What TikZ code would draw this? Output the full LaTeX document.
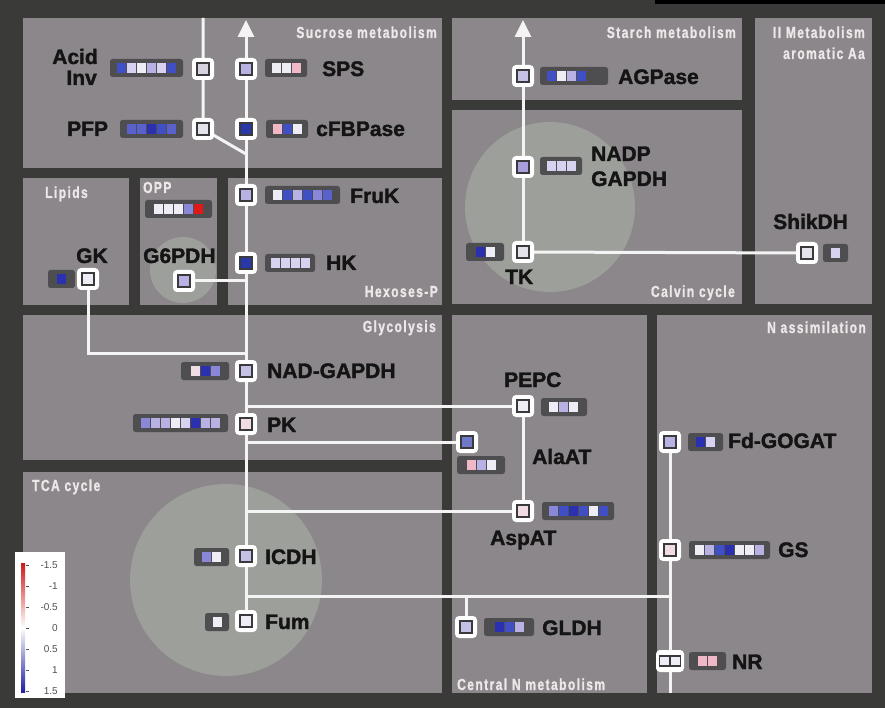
\documentclass[tikz,border=0pt]{standalone}
\usepackage{fontspec}
\setmainfont{Liberation Sans}
\newfontfamily\labfont[BoldFeatures={FakeBold=1.6}]{Liberation Sans}
\newfontfamily\ttlfont[FakeStretch=0.75,LetterSpace=9,BoldFeatures={FakeBold=1.2}]{Liberation Sans}
\usetikzlibrary{arrows.meta}
\definecolor{bgc}{HTML}{3A3B38}
\definecolor{panelc}{HTML}{8B878A}
\definecolor{circc}{HTML}{9D9F9A}
\definecolor{barc}{HTML}{4E4E51}
\definecolor{linec}{HTML}{F4F4F4}
\definecolor{enzb}{HTML}{3A3A3C}
\definecolor{ttlc}{HTML}{ECE8EA}
\definecolor{hw}{HTML}{EEEDF5}
\definecolor{hlw}{HTML}{D6D2F0}
\definecolor{hl}{HTML}{B8B2E4}
\definecolor{hm}{HTML}{8A86D8}
\definecolor{hbb}{HTML}{5A60CC}
\definecolor{hb}{HTML}{4050C4}
\definecolor{hd}{HTML}{2A30B0}
\definecolor{hp}{HTML}{F0B8C6}
\definecolor{hpl}{HTML}{F2DCE4}
\definecolor{hr}{HTML}{E01818}
\definecolor{eg}{HTML}{D6D2E0}
\definecolor{ewg}{HTML}{E4E2EA}
\definecolor{ed}{HTML}{2838A8}
\definecolor{ela}{HTML}{C4C0E6}
\definecolor{ehl}{HTML}{A8A0D8}
\definecolor{eal}{HTML}{7078C8}
\definecolor{legred}{HTML}{D01818}
\definecolor{legblue}{HTML}{2020A0}
\definecolor{legtxt}{HTML}{505050}
\pgfdeclarelayer{back}
\pgfdeclarelayer{lines}
\pgfsetlayers{back,lines,main}
\newcommand\enzyme[3]{%
  \node[enzo] (#1) at (#2) {};
  \node[enzi, fill=#3] (#1-in) at (#2) {};}
\newcommand\hmap[5]{%
  \fill[barc, rounded corners=2.5pt] (#1,#2-9) rectangle ++(#3,18);
  \foreach \hc [count=\i from 0] in {#5} {\fill[\hc] ({#1+#4+10*\i},{#2-5}) rectangle ++(9,10);}}
\begin{document}
\begin{tikzpicture}[x=1pt,y=-1pt,
  ln/.style={draw=linec, line width=3pt},
  tip/.style={-{Triangle[width=16pt,length=17pt]}},
  enzo/.style={draw=none, fill=white, rounded corners=4pt, minimum size=22pt, inner sep=0pt},
  enzi/.style={draw=enzb, line width=1.5pt, minimum size=12pt, inner sep=0pt},
  lab/.style={font=\labfont\bfseries\fontsize{21}{22}\selectfont, text=black!92, inner sep=0pt},
  ttl/.style={font=\ttlfont\bfseries\fontsize{16}{17}\selectfont, text=ttlc, inner sep=0pt},
  leg/.style={font=\fontsize{10}{11}\selectfont, text=legtxt, inner sep=0pt}]
\useasboundingbox (0,0) rectangle (885,708);
\begin{pgfonlayer}{back}
\fill[bgc] (0,0) rectangle (885,708);
\fill[black] (655,0) rectangle (885,4);
\fill[panelc] (23,18) rectangle (442,168);
\fill[panelc] (452,18) rectangle (742,100);
\fill[panelc] (755,18) rectangle (872,304);
\fill[panelc] (452,110) rectangle (742,304);
\fill[panelc] (23,178) rectangle (129,305);
\fill[panelc] (140,178) rectangle (217,305);
\fill[panelc] (228,178) rectangle (442,305);
\fill[panelc] (23,315) rectangle (442,460);
\fill[panelc] (23,472) rectangle (442,693);
\fill[panelc] (452,315) rectangle (647,693);
\fill[panelc] (657,315) rectangle (872,693);
\fill[circc] (550,207) circle[radius=85pt];
\fill[circc] (226,580) circle[radius=96pt];
\fill[circc] (183,270) circle[radius=33pt];
\end{pgfonlayer}
% titles
\node[ttl, anchor=base east] (tSuc) at (437,38) {Sucrose metabolism};
\node[ttl, anchor=base east] (tSta) at (736,38) {Starch metabolism};
\node[ttl, anchor=base east] (tII) at (865,38) {II Metabolism};
\node[ttl, anchor=base east] (tII2) at (865,59) {aromatic Aa};
\node[ttl, anchor=base west] (tLip) at (45,198) {Lipids};
\node[ttl, anchor=base west] (tOPP) at (143,193) {OPP};
\node[ttl, anchor=base east] (tHex) at (438,297) {Hexoses-P};
\node[ttl, anchor=base east] (tCal) at (735,297) {Calvin cycle};
\node[ttl, anchor=base east] (tGly) at (436,332) {Glycolysis};
\node[ttl, anchor=base east] (tNas) at (866,333) {N assimilation};
\node[ttl, anchor=base west] (tTCA) at (32,491) {TCA cycle};
\node[ttl, anchor=base west] (tCen) at (457,690) {Central N metabolism};
% heat maps
\hmap{110}{68}{73}{7}{hb,hlw,hw,hl,hlw,hb}
\hmap{265}{68}{42}{6.5}{hw,hw,hp}
\hmap{120}{129}{63}{7}{hbb,hbb,hd,hb,hbb}
\hmap{266}{129}{42}{6.5}{hp,hb,hw}
\hmap{265}{195}{75}{8}{hw,hb,hl,hb,hm,hbb}
\hmap{265}{263}{50}{6}{hlw,hlw,hlw,hlw}
\hmap{145}{209}{67}{9}{hw,hw,hw,hm,hr}
\hmap{48}{279}{27}{9}{hd}
\hmap{181}{371}{48}{9.5}{hpl,hd,hm}
\hmap{133}{423}{95}{8}{hm,hl,hl,hw,hlw,hd,hl,hl}
\hmap{540}{76}{68}{7}{hb,hw,hl,hb}
\hmap{540}{166}{42}{6.5}{hlw,hlw,hlw}
\hmap{466}{252}{38}{9.5}{hd,hw}
\hmap{823}{253}{25}{8}{hlw}
\hmap{541}{407}{46}{8}{hw,hl,hw}
\hmap{457}{465}{48}{9.5}{hp,hl,hw}
\hmap{542}{511}{72}{6.5}{hm,hb,hd,hb,hw,hb}
\hmap{688}{442}{35}{8}{hd,hlw}
\hmap{689}{550}{81}{6}{hw,hl,hb,hd,hw,hw,hl}
\hmap{484}{627}{50}{10.5}{hd,hb,hl}
\hmap{689}{661}{37}{9}{hp,hp}
\hmap{194}{557}{35}{8}{hm,hw}
\hmap{205}{622}{24}{7.5}{hw}
% enzymes
\enzyme{AcidInv}{203,69}{eg}
\enzyme{SPS}{246,69}{hl}
\enzyme{PFP}{203,129}{ewg}
\enzyme{cFBPase}{246,129}{ed}
\enzyme{FruK}{246,195}{hl}
\enzyme{HK}{246,263}{ed}
\enzyme{G6PDH}{184,281}{hl}
\enzyme{GK}{88,279}{hw}
\enzyme{NADGAPDH}{246,371}{ela}
\enzyme{PK}{246,424}{hpl}
\enzyme{AGPase}{523,76}{ela}
\enzyme{NADPGAPDH}{523,167}{ehl}
\enzyme{TK}{523,252}{ewg}
\enzyme{ShikDH}{807,253}{ewg}
\enzyme{PEPC}{523,406}{hw}
\enzyme{AlaAT}{467,442}{eal}
\enzyme{AspAT}{523,511}{hpl}
\enzyme{FdGOGAT}{670,442}{hl}
\enzyme{GS}{670,550}{hpl}
\enzyme{GLDH}{466,627}{ela}
\enzyme{ICDH}{246,556}{ela}
\enzyme{Fum}{246,621}{hw}
\node[enzo, minimum width=28pt] (NR) at (670,661) {};
\node[enzi, fill=hw, minimum size=10pt] (NR-a) at (664.5,661) {};
\node[enzi, fill=hw, minimum size=10pt] (NR-b) at (675.5,661) {};
% labels
\node[lab, anchor=base east] (lAcid) at (98,64) {Acid};
\node[lab, anchor=base east] (lInv) at (97,85) {Inv};
\node[lab, anchor=base west] (lSPS) at (322,76) {SPS};
\node[lab, anchor=base west] (lPFP) at (67,136) {PFP};
\node[lab, anchor=base west] (lcFB) at (316,136) {cFBPase};
\node[lab, anchor=base west] (lFruK) at (350,203) {FruK};
\node[lab, anchor=base west] (lHK) at (326,270) {HK};
\node[lab, anchor=base west] (lGK) at (76,263) {GK};
\node[lab, anchor=base west] (lG6) at (143,263) {G6PDH};
\node[lab, anchor=base west] (lNAD) at (267,378) {NAD-GAPDH};
\node[lab, anchor=base west] (lPK) at (267,432) {PK};
\node[lab, anchor=base west] (lAGP) at (618,84) {AGPase};
\node[lab, anchor=base west] (lNADP) at (591,161) {NADP};
\node[lab, anchor=base west] (lGAPDH) at (591,186) {GAPDH};
\node[lab, anchor=base west] (lTK) at (505,284) {TK};
\node[lab, anchor=base west] (lShik) at (773,229) {ShikDH};
\node[lab, anchor=base west] (lPEPC) at (504,387) {PEPC};
\node[lab, anchor=base west] (lAla) at (532,464) {AlaAT};
\node[lab, anchor=base west] (lFd) at (728,448) {Fd-GOGAT};
\node[lab, anchor=base west] (lAsp) at (490,545) {AspAT};
\node[lab, anchor=base west] (lGS) at (778,557) {GS};
\node[lab, anchor=base west] (lGLDH) at (542,635) {GLDH};
\node[lab, anchor=base west] (lNR) at (732,669) {NR};
\node[lab, anchor=base west] (lICDH) at (265,564) {ICDH};
\node[lab, anchor=base west] (lFum) at (265,629) {Fum};
% free ends
\coordinate (topA) at (246,20);
\coordinate (topL) at (203,18);
\coordinate (jPFP) at (246,154);
\coordinate (jGK) at (246,353);
\coordinate (jN1) at (246,596);
\coordinate (jN2) at (670,596);
\coordinate (nBot) at (670,693);
\coordinate (topS) at (523,20);
% connectors
\begin{pgfonlayer}{lines}
\draw[ln, tip] (Fum.center) -- (ICDH.center) -- (PK.center) -- (NADGAPDH.center) -- (HK.center) -- (FruK.center) -- (cFBPase.center) -- (SPS.center) -- (topA);
\draw[ln] (topL) -- (AcidInv.center) -- (PFP.center) -- (jPFP);
\draw[ln] (G6PDH.center) -- (G6PDH.center -| HK.center);
\draw[ln] (GK.center) |- (jGK);
\draw[ln] (PEPC.center) -- (PEPC.center -| PK.center);
\draw[ln] (AlaAT.center) -- (AlaAT.center -| PK.center);
\draw[ln] (AspAT.center) -- (AspAT.center -| ICDH.center);
\draw[ln] (PEPC.center) -- (AspAT.center);
\draw[ln] (jN1) -- (jN2);
\draw[ln] (GLDH.center) -- (GLDH.center |- jN1);
\draw[ln] (FdGOGAT.center) -- (GS.center) -- (NR.center) -- (nBot);
\draw[ln, tip] (TK.center) -- (NADPGAPDH.center) -- (AGPase.center) -- (topS);
\draw[ln] (TK.center) -- (ShikDH.center);
\end{pgfonlayer}
% legend
\fill[white] (15,552) rectangle (65,698);
\shade[top color=legred, bottom color=legblue, middle color=white] (21,563) rectangle (25,692);
\foreach \v/\yy [count=\k] in {-1.5/565,-1/586,-0.5/607,0/628,0.5/649,1/670,1.5/691} {
  \draw[legtxt, line width=0.6pt] (26,\yy) -- (29,\yy);
  \node[leg, anchor=base east] (leg\k) at (58,\yy+3.5) {\v};
}
\end{tikzpicture}
\end{document}
